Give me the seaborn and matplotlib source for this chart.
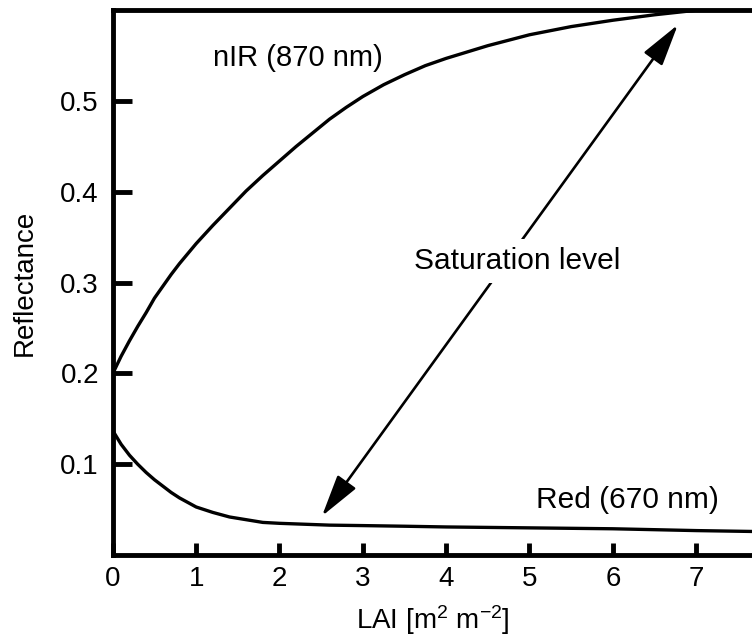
import matplotlib
matplotlib.use("Agg")
import matplotlib.pyplot as plt
import seaborn as sns
import pandas as pd

# ---- data ----
nir_lai = [0, 0.1, 0.2, 0.3, 0.4, 0.5, 0.6, 0.7, 0.8, 0.9, 1.0, 1.2, 1.4, 1.6, 1.8,
           2.0, 2.2, 2.4, 2.6, 2.8, 3.0, 3.25, 3.5, 3.75, 4.0, 4.25, 4.5, 4.75,
           5.0, 5.5, 6.0, 6.5, 7.0, 7.7]
nir_refl = [0.200, 0.219, 0.236, 0.252, 0.267, 0.283, 0.296, 0.309, 0.321, 0.332,
            0.343, 0.363, 0.382, 0.401, 0.418, 0.434, 0.450, 0.465, 0.480, 0.493,
            0.505, 0.518, 0.529, 0.539, 0.547, 0.554, 0.561, 0.567, 0.573, 0.582,
            0.589, 0.595, 0.600, 0.604]
red_lai = [0, 0.1, 0.2, 0.3, 0.4, 0.5, 0.6, 0.7, 0.8, 0.9, 1.0, 1.2, 1.4, 1.6, 1.8,
           2.0, 2.3, 2.6, 3.0, 3.5, 4.0, 5.0, 6.0, 7.0, 7.7]
red_refl = [0.137, 0.122, 0.110, 0.100, 0.091, 0.083, 0.076, 0.069, 0.063, 0.058,
            0.053, 0.047, 0.042, 0.039, 0.036, 0.035, 0.034, 0.033, 0.0325, 0.0318,
            0.031, 0.030, 0.029, 0.027, 0.026]
x_ticks = [0, 1, 2, 3, 4, 5, 6, 7]
y_ticks = [0.1, 0.2, 0.3, 0.4, 0.5]
arrow_low = (2.51, 0.043)
arrow_high = (6.78, 0.584)
sat_label_pos = (4.85, 0.324)
nir_label_pos = (2.22, 0.547)
red_label_pos = (6.18, 0.061)

sns.set_style("white")
plt.rcParams['font.family'] = ['Liberation Sans', 'DejaVu Sans']
plt.rcParams['mathtext.fontset'] = 'custom'
plt.rcParams['mathtext.rm'] = 'Liberation Sans'
plt.rcParams['mathtext.it'] = 'Liberation Sans:italic'
plt.rcParams['text.color'] = 'black'
plt.rcParams['axes.labelcolor'] = 'black'

nir_df = pd.DataFrame({"LAI": nir_lai, "Reflectance": nir_refl})
red_df = pd.DataFrame({"LAI": red_lai, "Reflectance": red_refl})

fig = plt.figure(figsize=(7.52, 6.41), dpi=100)
ax = fig.add_axes([0.150, 0.134, 0.85, 0.850])

sns.lineplot(data=nir_df, x="LAI", y="Reflectance", ax=ax, color="black", lw=2.4)
sns.lineplot(data=red_df, x="LAI", y="Reflectance", ax=ax, color="black", lw=2.4)

ax.set_xlim(0, 7.67)
ax.set_ylim(0, 0.6)
ax.set_xticks(x_ticks)
ax.set_xticklabels([str(t) for t in x_ticks])
ax.set_yticks(y_ticks)
ax.set_yticklabels([f"{t:.1f}" for t in y_ticks])

for side in ["left", "bottom", "top"]:
    ax.spines[side].set_linewidth(3.5)
    ax.spines[side].set_color("black")
ax.spines["right"].set_visible(False)

ax.tick_params(axis="y", direction="in", length=14, width=3.5, pad=10,
               labelsize=20, colors="black", left=True)
ax.tick_params(axis="x", direction="in", length=9, width=3.5, pad=8,
               labelsize=20, colors="black", bottom=True)

ax.set_xlabel(r"LAI [m$^{2}$ m$^{-2}$]", fontsize=20, labelpad=8)
ax.set_ylabel("Reflectance", fontsize=20, labelpad=16)

ax.annotate("", xy=arrow_high, xytext=arrow_low,
            arrowprops=dict(arrowstyle="<|-|>,head_length=1.3,head_width=0.35",
                            mutation_scale=20, lw=1.9, color="black",
                            shrinkA=0, shrinkB=0), zorder=3)
ax.text(*sat_label_pos, "Saturation level", fontsize=21.5, ha="center", va="center",
        bbox=dict(facecolor="white", edgecolor="none", pad=6), zorder=4)
ax.text(*nir_label_pos, "nIR (870 nm)", fontsize=21, ha="center", va="center")
ax.text(*red_label_pos, "Red (670 nm)", fontsize=21.5, ha="center", va="center")

fig.savefig("out.png", dpi=100)
